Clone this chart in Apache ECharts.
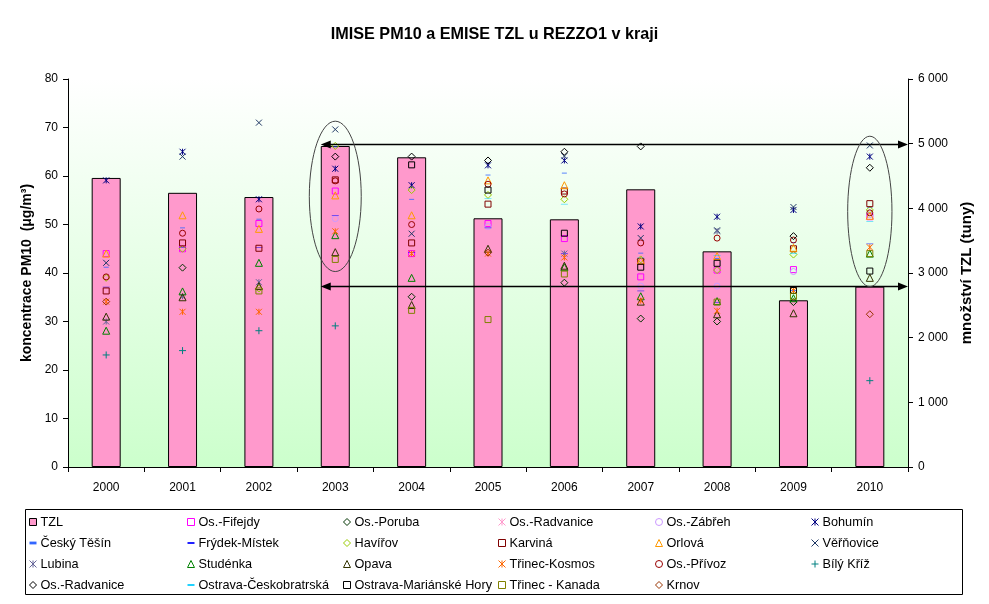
<!DOCTYPE html>
<html><head><meta charset="utf-8">
<script src="https://cdn.jsdelivr.net/npm/echarts@6/dist/echarts.min.js"></script>
<style>html,body{margin:0;padding:0;background:#fff}#c{width:989px;height:604px}</style>
</head><body><div id="c"></div>
<script>
// ---------- DATA ----------
const years = ['2000','2001','2002','2003','2004','2005','2006','2007','2008','2009','2010'];
const leftTicks = [0,10,20,30,40,50,60,70,80];
const rightTicks = [0,1000,2000,3000,4000,5000,6000];
const tzl        = [4470, 4240, 4175, 4964, 4789, 3846, 3830, 4294, 3335, 2578, 2790];
const fifejdy    = [44.0, 45.0, 50.2, 56.9, 44.0, 50.2, 47.1, 39.2, 40.6, 40.7, 51.6];
const poruba     = [null, 41.1, null, null, 35.1, null, 38.0, 30.6, 30.0, 34.0, null];
const radvanice1 = [null, null, null, null, null, null, null, null, null, null, null];
const zabreh     = [null, null, null, 51.2, null, 49.6, null, 37.3, 37.3, 40.3, 52.0];
const bohumin    = [59.1, 65.0, 55.2, 61.5, 58.1, 62.2, 63.2, 49.6, 51.6, 53.0, 64.0];
const ceskyTesin = [41.2, 49.3, 51.1, 66.0, 55.2, 60.2, 60.6, 44.1, 43.0, 46.3, 53.5];
const frydek     = [37.1, 45.3, 45.3, 51.9, 44.2, 49.3, 44.0, 36.3, 33.9, 36.4, 46.0];
const havirov    = [39.0, 45.0, 36.8, 66.2, 57.1, 56.1, 55.2, 42.8, 40.6, 43.8, 53.0];
const karvina    = [36.3, 46.2, 45.1, 59.2, 46.2, 54.2, 56.9, 42.4, null, 45.0, 54.3];
const orlova     = [44.0, 51.9, 49.1, 56.0, 51.9, 59.1, 58.1, 42.6, 43.5, 45.2, 51.8];
const verovice   = [42.1, 64.0, 71.0, 69.6, 48.1, null, 64.1, 47.2, 48.8, 53.6, 66.3];
const lubina     = [30.0, 35.2, 38.1, null, null, null, 44.0, null, 48.6, null, null];
const studenka   = [28.1, 36.2, 42.1, 47.8, 39.0, null, 41.2, 35.2, 34.2, 34.8, 44.0];
const opava      = [31.0, 35.0, 37.3, 44.3, 33.4, 45.0, 41.5, 34.1, 31.5, 31.7, 39.0];
const trinecK    = [34.1, 32.0, 32.0, 48.6, 44.0, 44.0, 43.2, 34.3, 32.2, 36.4, 45.3];
const privoz     = [39.2, 48.2, 53.2, 59.0, 50.0, 58.3, 56.3, 46.2, 47.2, 46.8, 52.4];
const bilyKriz   = [23.1, 24.0, 28.1, 29.1, null, null, null, null, null, null, 17.8];
const radvanice2 = [null, null, null, 64.0, 64.0, 63.2, 65.0, 66.1, null, 47.6, 61.7];
const ceskobr    = [null, null, null, null, null, 55.3, 54.2, 43.1, 43.6, 44.0, 50.6];
const marHory    = [null, null, null, null, 62.3, 57.1, 48.2, 41.2, 42.0, 36.4, 40.4];
const kanada     = [null, null, 36.3, 42.8, 32.3, 30.4, 39.8, null, 34.0, 35.2, 44.0];
const krnov      = [34.1, null, null, null, null, 44.2, null, null, null, null, 31.5];
// annotations (values on axes)
const arrowLevels = [5000, 2800];
const ellipses = [{year:'2003', top:71.3, bottom:40.3}, {year:'2010', top:68.2, bottom:37.2}];

// ---------- STYLES ----------
const SYM = {
  square:  {symbol:'rect', size:6, hollow:true},
  diamond: {symbol:'diamond', size:7, hollow:true},
  circle:  {symbol:'circle', size:6, hollow:true},
  tri:     {symbol:'triangle', size:7, hollow:true},
  star:    {symbol:'path://M0,0L8,8M8,0L0,8M4,0L4,8', size:6, hollow:true},
  cross:   {symbol:'path://M0,0L8,8M8,0L0,8', size:6, hollow:true},
  plus:    {symbol:'path://M4,0L4,8M0,4L8,4', size:7, hollow:true},
  dashS:   {symbol:'path://M0,0H5V2H0Z', size:[5,2], hollow:false},
  dashL:   {symbol:'path://M0,0H8V2H0Z', size:[7,2], hollow:false}
};
const scat = [
  ['Os.-Fifejdy', fifejdy, 'square', '#FF00FF'],
  ['Os.-Poruba', poruba, 'diamond', '#003300'],
  ['Os.-Radvanice', radvanice1, 'star', '#FF99CC'],
  ['Os.-Zábřeh', zabreh, 'circle', '#CC99FF'],
  ['Bohumín', bohumin, 'star', '#000080'],
  ['Český Těšín', ceskyTesin, 'dashS', '#3366FF'],
  ['Frýdek-Místek', frydek, 'dashL', '#0000FF'],
  ['Havířov', havirov, 'diamond', '#99CC00'],
  ['Karviná', karvina, 'square', '#800000'],
  ['Orlová', orlova, 'tri', '#FF9900'],
  ['Věřňovice', verovice, 'cross', '#1F3864'],
  ['Lubina', lubina, 'star', '#666699'],
  ['Studénka', studenka, 'tri', '#008000'],
  ['Opava', opava, 'tri', '#333300'],
  ['Třinec-Kosmos', trinecK, 'star', '#FF6600'],
  ['Os.-Přívoz', privoz, 'circle', '#990000'],
  ['Bílý Kříž', bilyKriz, 'plus', '#008080'],
  ['Os.-Radvanice ', radvanice2, 'diamond', '#000000'],
  ['Ostrava-Českobratrská', ceskobr, 'dashL', '#00CCFF'],
  ['Ostrava-Mariánské Hory', marHory, 'square', '#000000'],
  ['Třinec - Kanada', kanada, 'square', '#808000'],
  ['Krnov', krnov, 'diamond', '#993300']
];
const FONT = 'Liberation Sans, Arial, sans-serif';
const GRID = {left:68, right:81, top:79, bottom:137};

const series = [{
  name:'TZL', type:'bar', yAxisIndex:1, data:tzl, barWidth:29, z:1,
  itemStyle:{color:'#FF99CC', borderColor:'#000', borderWidth:1}
}];
scat.forEach(([name, data, key, color]) => {
  const s = SYM[key];
  series.push({
    name, type:'scatter', yAxisIndex:0, data, symbol:s.symbol, symbolSize:s.size,
    symbolKeepAspect:true, z:3,
    itemStyle: s.hollow ? {color:'none', borderColor:color, borderWidth:1, opacity:1}
                        : {color:color, borderWidth:0, opacity:1}
  });
});

// legend columns
const allNames = ['TZL'].concat(scat.map(s=>s[0]));
const cols = [[],[],[],[],[],[]];
allNames.forEach((n,i)=>cols[i%6].push(n));
const colLeft = [27, 185, 341, 496, 653, 809];
const legends = cols.map((names, ci) => ({
  orient:'vertical', left:colLeft[ci], top:515, itemWidth:7, itemHeight:7, itemGap:7,
  selectedMode:false,
  itemStyle:{borderWidth:1},
  textStyle:{fontFamily:FONT, fontSize:12.7, color:'#000', lineHeight:14, padding:[0,0,0,-1]},
  padding:0,
  data: names.map(n => {
    if (n === 'TZL') return {name:n, icon:'rect'};
    const e = scat.find(s=>s[0]===n);
    if (e[2]==='dashS') return {name:n, icon:'path://M0,0H5V2H0Z'};
    if (e[2]==='dashL') return {name:n, icon:'path://M0,0H8V2H0Z'};
    return {name:n};
  })
}));

const chart = echarts.init(document.getElementById('c'), null, {renderer:'canvas'});
const option = {
  animation:false,
  backgroundColor:'#fff',
  title:{text:'IMISE PM10 a EMISE TZL u REZZO1 v kraji', left:'center', top:22,
    textStyle:{fontFamily:FONT, fontWeight:'bold', fontSize:16.2, color:'#000'}},
  grid:{...GRID, show:true, borderWidth:0,
    backgroundColor:{type:'linear', x:0, y:0, x2:0, y2:1,
      colorStops:[{offset:0, color:'#FFFFFF'},{offset:1, color:'#CCFFCC'}]}},
  legend: legends,
  xAxis:{type:'category', data:years, boundaryGap:true,
    axisLine:{lineStyle:{color:'#000', width:1}},
    axisTick:{show:true, length:5, lineStyle:{color:'#000'}},
    axisLabel:{fontFamily:FONT, fontSize:12, color:'#000', margin:15},
    splitLine:{show:false}},
  yAxis:[
    {type:'value', min:leftTicks[0], max:leftTicks[leftTicks.length-1], interval:10,
     name:'koncentrace PM10  (μg/m³)', nameLocation:'middle', nameRotate:90, nameGap:22,
     nameTextStyle:{fontFamily:FONT, fontSize:14, fontWeight:'bold', color:'#000'},
     axisLine:{show:true, lineStyle:{color:'#000'}},
     axisTick:{show:true, length:5, lineStyle:{color:'#000'}},
     axisLabel:{fontFamily:FONT, fontSize:12, color:'#000', margin:10},
     splitLine:{show:false}},
    {type:'value', position:'right', min:rightTicks[0], max:rightTicks[rightTicks.length-1], interval:1000,
     name:'množství TZL (tuny)', nameLocation:'middle', nameRotate:90, nameGap:48,
     nameTextStyle:{fontFamily:FONT, fontSize:15, fontWeight:'bold', color:'#000'},
     axisLine:{show:true, lineStyle:{color:'#000'}},
     axisTick:{show:true, length:5, lineStyle:{color:'#000'}},
     axisLabel:{fontFamily:FONT, fontSize:12, color:'#000', margin:10,
       formatter: v => v === 0 ? '0' : (Math.floor(v/1000) + ' ' + String(v%1000).padStart(3,'0'))},
     splitLine:{show:false}}
  ],
  series
};
chart.setOption(option);

// annotations via axis conversion
const g = [];
g.push({type:'rect', shape:{x:25.5, y:509.5, width:937, height:85}, style:{fill:'none', stroke:'#000', lineWidth:1}, z:0});
const xRight = 989 - GRID.right;
const p03 = chart.convertToPixel({xAxisIndex:0, yAxisIndex:1}, ['2003', 0]);
const xLeft = p03[0] - 14.5;
arrowLevels.forEach(v => {
  const y = Math.round(chart.convertToPixel({yAxisIndex:1}, v)) + 0.5;
  g.push({type:'line', shape:{x1:xLeft+8, y1:y, x2:xRight-8, y2:y}, style:{stroke:'#000', lineWidth:1.5}, z:10});
  g.push({type:'polygon', shape:{points:[[xLeft,y],[xLeft+10,y-4],[xLeft+10,y+4]]}, style:{fill:'#000'}, z:10});
  g.push({type:'polygon', shape:{points:[[xRight,y],[xRight-10,y-4],[xRight-10,y+4]]}, style:{fill:'#000'}, z:10});
});
const catW = (chart.convertToPixel({xAxisIndex:0}, '2001') - chart.convertToPixel({xAxisIndex:0}, '2000'));
ellipses.forEach((e, i) => {
  const cx = chart.convertToPixel({xAxisIndex:0}, e.year);
  const yt = chart.convertToPixel({yAxisIndex:0}, e.top);
  const yb = chart.convertToPixel({yAxisIndex:0}, e.bottom);
  const rx = catW * (i === 0 ? 0.34 : 0.29);
  g.push({type:'ellipse', shape:{cx:cx, cy:(yt+yb)/2, rx:rx, ry:(yb-yt)/2}, style:{fill:'none', stroke:'#444', lineWidth:1}, z:10});
});
chart.setOption({graphic:g});
</script>
</body></html>
